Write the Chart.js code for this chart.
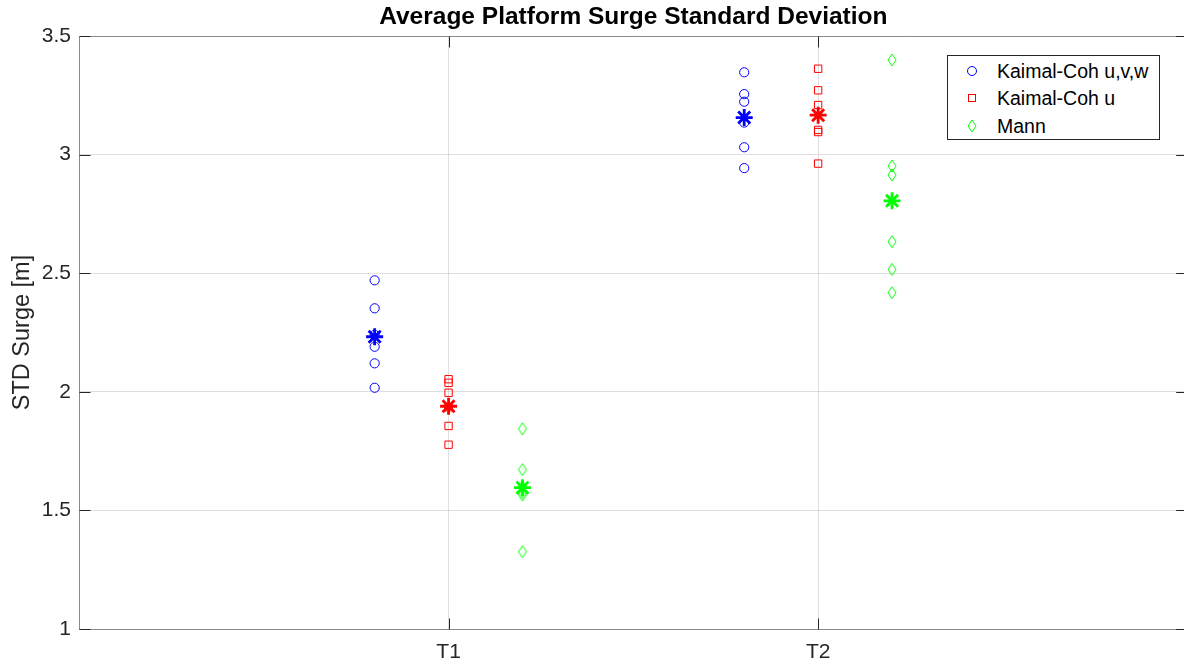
<!DOCTYPE html>
<html>
<head>
<meta charset="utf-8">
<title>Average Platform Surge Standard Deviation</title>
<script src="https://cdn.jsdelivr.net/npm/chart.js@4.4.1/dist/chart.umd.min.js"></script>
<style>
  html, body { margin: 0; padding: 0; background: #fff; overflow: hidden; }
  #wrap { position: absolute; left: 0; top: 0; width: 1199px; height: 666px; }
  #legend {
    position: absolute; left: 947px; top: 55px; width: 213px; height: 85px;
    box-sizing: border-box; border: 1px solid #262626; background: #fff;
    font-family: "Liberation Sans", Arial, sans-serif; font-size: 19.5px; color: #000;
  }
  #legend .row { position: absolute; left: 0; height: 26px; line-height: 26px; white-space: nowrap; }
  #legend svg { position: absolute; left: 16px; top: 5px; }
  #legend span { position: absolute; left: 49px; top: 0; }
</style>
</head>
<body>
<div id="wrap">
  <canvas id="chart" width="1199" height="666"></canvas>
  <div id="legend"></div>
</div>
<script>
// Turbine cases on the x axis
const categories = ['T1', 'T2'];
const caseOffsets = [-0.2, 0, 0.2];

// Surge standard deviation per seed [m]
const kaimalUVW_T1 = [2.470, 2.352, 2.240, 2.190, 2.120, 2.017];
const kaimalUVW_T2 = [3.347, 3.255, 3.223, 3.135, 3.031, 2.943];
const kaimalU_T1   = [2.053, 2.038, 1.996, 1.935, 1.856, 1.777];
const kaimalU_T2   = [3.362, 3.271, 3.209, 3.104, 3.095, 2.962];
const mann_T1      = [1.844, 1.672, 1.600, 1.575, 1.565, 1.326];
const mann_T2      = [3.399, 2.952, 2.914, 2.633, 2.516, 2.418];

// Averages over the seeds (T1, T2)
const kaimalUVW_mean = [2.232, 3.156];
const kaimalU_mean   = [1.939, 3.166];
const mann_mean      = [1.596, 2.805];

const yTicks = [1, 1.5, 2, 2.5, 3, 3.5];
const seriesNames = ['Kaimal-Coh u,v,w', 'Kaimal-Coh u', 'Mann'];
const seriesColors = ['#0000ff', '#ff0000', '#00ff00'];

const FONT = '"Liberation Sans", Arial, sans-serif';
const AXIS_COLOR = '#262626';

// Tall diamond marker
function diamondMarker(color) {
  const c = document.createElement('canvas');
  c.width = 10; c.height = 14;
  const g = c.getContext('2d');
  g.strokeStyle = color; g.lineWidth = 1;
  g.beginPath();
  g.moveTo(5, 1); g.lineTo(9, 7); g.lineTo(5, 13); g.lineTo(1, 7); g.closePath();
  g.stroke();
  return c;
}

function points(perCase, seriesIdx) {
  const out = [];
  perCase.forEach((vals, ci) => {
    vals.forEach(v => out.push({ x: ci + 1 + caseOffsets[seriesIdx], y: v }));
  });
  return out;
}
function meanPoints(means, seriesIdx) {
  return means.map((v, ci) => ({ x: ci + 1 + caseOffsets[seriesIdx], y: v }));
}

const markerStyles = [
  { pointStyle: 'circle', pointRadius: 4.6 },
  { pointStyle: 'rect', pointRadius: 5.2 },
  { pointStyle: diamondMarker(seriesColors[2]), pointRadius: 6 }
];

const seedSets = [
  [kaimalUVW_T1, kaimalUVW_T2],
  [kaimalU_T1, kaimalU_T2],
  [mann_T1, mann_T2]
];
const meanSets = [kaimalUVW_mean, kaimalU_mean, mann_mean];

const datasets = [];
// Means first so they are painted on top of the seed markers
meanSets.forEach((m, i) => datasets.push({
  label: seriesNames[i] + ' mean',
  data: meanPoints(m, i),
  pointStyle: 'star',
  pointRadius: 8.5,
  pointBorderWidth: 2.8,
  borderColor: seriesColors[i],
  backgroundColor: seriesColors[i],
  showLine: false
}));
seedSets.forEach((s, i) => datasets.push({
  label: seriesNames[i],
  data: points(s, i),
  pointStyle: markerStyles[i].pointStyle,
  pointRadius: markerStyles[i].pointRadius,
  pointBorderWidth: 1,
  borderColor: seriesColors[i],
  backgroundColor: 'rgba(0,0,0,0)',
  showLine: false
}));

// Box around the axes with inward tick marks on all four sides
const axesBox = {
  id: 'axesBox',
  afterDatasetsDraw(chart) {
    const { ctx, chartArea: a, scales } = chart;
    const L = a.left + 0.5, R = a.right - 0.5, T = a.top + 0.5, B = a.bottom + 0.5;
    ctx.save();
    ctx.lineWidth = 1;
    ctx.strokeStyle = '#8a8a8a';
    ctx.beginPath();
    ctx.moveTo(L, T); ctx.lineTo(R, T); ctx.lineTo(R, B); ctx.lineTo(L, B); ctx.closePath();
    ctx.stroke();
    ctx.strokeStyle = AXIS_COLOR;
    const tl = 11;
    ctx.beginPath();
    scales.y.ticks.forEach(t => {
      const y = Math.round(scales.y.getPixelForValue(t.value)) + 0.5;
      ctx.moveTo(L, y); ctx.lineTo(L + tl, y);
      ctx.moveTo(R, y); ctx.lineTo(R - tl, y);
    });
    scales.x.ticks.forEach(t => {
      const x = Math.round(scales.x.getPixelForValue(t.value)) + 0.5;
      ctx.moveTo(x, B); ctx.lineTo(x, B - tl);
      ctx.moveTo(x, T); ctx.lineTo(x, T + tl);
    });
    ctx.stroke();
    ctx.restore();
  }
};

new Chart(document.getElementById('chart'), {
  type: 'scatter',
  data: { datasets },
  options: {
    responsive: false,
    animation: false,
    events: [],
    layout: { padding: { left: 0, right: 5, top: 0, bottom: 0 } },
    plugins: {
      legend: { display: false },
      tooltip: { enabled: false },
      title: {
        display: true,
        fullSize: false,
        text: 'Average Platform Surge Standard Deviation',
        color: '#000',
        font: { family: FONT, size: 24.5, weight: 'bold', lineHeight: 1.2 },
        padding: { top: 3, bottom: 3.6 }
      }
    },
    scales: {
      x: {
        type: 'linear',
        min: 0, max: 3,
        afterBuildTicks(scale) { scale.ticks = categories.map((c, i) => ({ value: i + 1 })); },
        afterFit(scale) { scale.height = 37; },
        ticks: {
          color: AXIS_COLOR,
          font: { family: FONT, size: 21 },
          padding: 11,
          maxRotation: 0,
          callback: v => categories[v - 1]
        },
        grid: { color: 'rgba(38,38,38,0.15)', drawTicks: false, lineWidth: 1 },
        border: { display: false }
      },
      y: {
        type: 'linear',
        min: 1, max: 3.5,
        afterBuildTicks(scale) { scale.ticks = yTicks.map(v => ({ value: v })); },
        afterFit(scale) { scale.width = 79; },
        ticks: {
          color: AXIS_COLOR,
          font: { family: FONT, size: 21 },
          padding: 8,
          callback: v => String(v)
        },
        grid: { color: 'rgba(38,38,38,0.15)', drawTicks: false, lineWidth: 1 },
        border: { display: false },
        title: {
          display: true,
          text: 'STD Surge [m]',
          color: AXIS_COLOR,
          font: { family: FONT, size: 23.5, lineHeight: 1.2 },
          padding: { top: 8, bottom: 0 }
        }
      }
    }
  },
  plugins: [axesBox]
});

// Legend entries with the same markers as the plot
const legendShapes = [
  '<circle cx="8" cy="8" r="4.5" fill="none" stroke="#0000ff" stroke-width="1"/>',
  '<rect x="4.5" y="4.5" width="7" height="7" fill="none" stroke="#ff0000" stroke-width="1"/>',
  '<polygon points="8,2 12,8 8,14 4,8" fill="none" stroke="#00ff00" stroke-width="1"/>'
];
const legendEl = document.getElementById('legend');
const rowTops = [2, 29, 57];
seriesNames.forEach((name, i) => {
  const row = document.createElement('div');
  row.className = 'row';
  row.style.top = rowTops[i] + 'px';
  row.innerHTML = '<svg width="16" height="16">' + legendShapes[i] + '</svg><span>' + name + '</span>';
  legendEl.appendChild(row);
});
</script>
</body>
</html>
